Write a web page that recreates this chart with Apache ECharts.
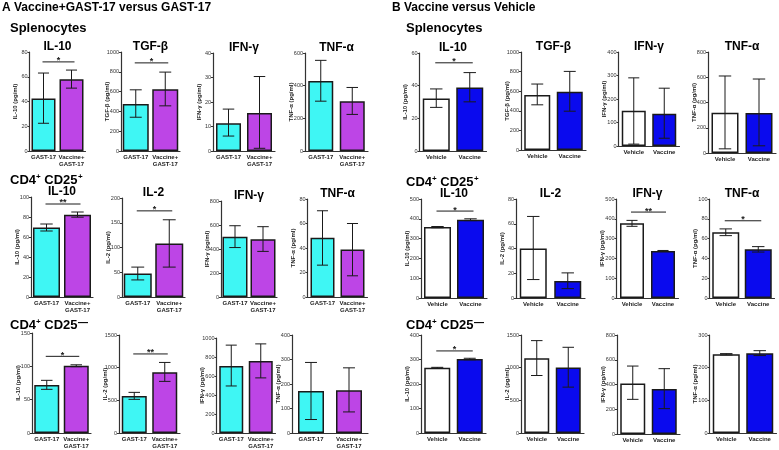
<!DOCTYPE html>
<html>
<head>
<meta charset="utf-8">
<script src="https://cdn.jsdelivr.net/npm/echarts@6/dist/echarts.min.js"></script>
<style>
html, body { margin: 0; padding: 0; background: #fff; }
#chart { width: 779px; height: 450px; }
</style>
</head>
<body>
<div id="chart"></div>
<script>
// ---- data ----
const groupsA = ['GAST-17', 'Vaccine+\nGAST-17'];
const groupsB = ['Vehicle', 'Vaccine'];
const cytoRow1 = ['IL-10', 'TGF-β', 'IFN-γ', 'TNF-α'];
const cytoRow23 = ['IL-10', 'IL-2', 'IFN-γ', 'TNF-α'];

// A: Vaccine+GAST-17 versus GAST-17
const aSplMax = [80, 1000, 40, 600];
const aSplStep = [20, 200, 10, 200];
const aSplMean = [[42.5, 58], [476, 625], [11.3, 15.5], [428, 305]];
const aSplLow = [[22.4, 50.8], [341, 456], [6.1, 1.1], [305, 224]];
const aSplHigh = [[63, 65.4], [618, 797], [17.1, 30.4], [555, 389]];
const aSplSig = [[72, '*'], [890, '*'], null, null];

const aPosMax = [100, 200, 800, 80];
const aPosStep = [20, 50, 200, 20];
const aPosMean = [[69.5, 82.3], [47.5, 108], [502, 482], [48.3, 38.8]];
const aPosLow = [[66, 79.8], [34.5, 60.4], [412, 380], [26, 17.3]];
const aPosHigh = [[73, 85], [60.4, 156], [594, 586], [70.4, 60]];
const aPosSig = [[93, '**'], [174, '*'], null, null];

const aNegMax = [150, 1500, 1000, 400];
const aNegStep = [50, 500, 200, 100];
const aNegMean = [[72, 100.8], [565, 930], [705, 757], [171, 175]];
const aNegLow = [[65.5, 99.5], [515, 790], [495, 580], [55, 86]];
const aNegHigh = [[79, 102.3], [622, 1080], [925, 938], [288, 266]];
const aNegSig = [[115, '*'], [1210, '**'], null, null];

// B: Vaccine versus Vehicle
const bSplMax = [60, 1000, 400, 800];
const bSplStep = [20, 200, 100, 200];
const bSplMean = [[32.2, 38.9], [560, 595], [150, 137], [318, 317]];
const bSplLow = [[26.7, 30.1], [461, 396], [8, 33], [33, 57]];
const bSplHigh = [[38, 48], [673, 802], [290, 246], [610, 586]];
const bSplSig = [[54, '*'], null, null, null];

const bPosMax = [500, 80, 500, 100];
const bPosStep = [100, 20, 100, 20];
const bPosMean = [[358, 395], [40, 13.8], [377, 238], [66.4, 49.2]];
const bPosLow = [[355, 391], [14.9, 7.6], [362, 236], [63, 46.4]];
const bPosHigh = [[361, 400], [65.9, 20.3], [392, 240], [69.8, 51.9]];
const bPosSig = [[439, '*'], null, [434, '**'], [78, '*']];

const bNegMax = [400, 1500, 800, 300];
const bNegStep = [100, 500, 200, 100];
const bNegMean = [[266, 302], [1146, 1004], [409, 364], [241, 244]];
const bNegLow = [[264, 299], [880, 702], [280, 205], [239, 237]];
const bNegHigh = [[268, 305], [1414, 1312], [549, 528], [243, 252]];
const bNegSig = [[335, '*'], null, null, null];

// ---- layout: [left, top, width, height, barWidth] ----
const boxASpl = [[29.5, 52, 56, 99, 24], [121, 52, 59, 99, 26], [213, 53, 62, 98, 25], [305, 53, 63, 98, 25]];
const boxAPos = [[31, 197, 62, 100, 27], [122, 198, 63, 99, 28], [221, 201, 56, 96, 25], [307.5, 199, 60, 98, 24]];
const boxANeg = [[32, 333, 59, 100, 25], [119, 335, 61, 98, 25], [216.5, 338, 59, 95, 24], [292, 335, 76, 98, 26]];
const boxBSpl = [[419.5, 53, 67, 98, 27], [521, 52, 65, 98, 26], [618.5, 52, 61, 94, 24], [708, 52, 68, 101, 27]];
const boxBPos = [[421, 199, 66, 99, 27], [516, 199, 69, 99, 27], [616.5, 199, 62, 99, 24], [709.5, 199, 65, 99, 27]];
const boxBNeg = [[421, 335, 65, 98, 26], [521, 335, 63, 98, 25], [617, 335, 63, 99, 25], [709.5, 335, 67, 98, 27]];

const colorsA = ['#3ff6f4', '#bd45e6'];
const colorsB = ['#ffffff', '#0a0aee'];
const FONT = '"Liberation Sans", Arial, Helvetica, sans-serif';

const rows = [
  { groups: groupsA, cyto: cytoRow1, max: aSplMax, step: aSplStep, mean: aSplMean, low: aSplLow, high: aSplHigh, sig: aSplSig, box: boxASpl, colors: colorsA, titled: true },
  { groups: groupsA, cyto: cytoRow23, max: aPosMax, step: aPosStep, mean: aPosMean, low: aPosLow, high: aPosHigh, sig: aPosSig, box: boxAPos, colors: colorsA, titled: true },
  { groups: groupsA, cyto: cytoRow23, max: aNegMax, step: aNegStep, mean: aNegMean, low: aNegLow, high: aNegHigh, sig: aNegSig, box: boxANeg, colors: colorsA, titled: false },
  { groups: groupsB, cyto: cytoRow1, max: bSplMax, step: bSplStep, mean: bSplMean, low: bSplLow, high: bSplHigh, sig: bSplSig, box: boxBSpl, colors: colorsB, titled: true },
  { groups: groupsB, cyto: cytoRow23, max: bPosMax, step: bPosStep, mean: bPosMean, low: bPosLow, high: bPosHigh, sig: bPosSig, box: boxBPos, colors: colorsB, titled: true },
  { groups: groupsB, cyto: cytoRow23, max: bNegMax, step: bNegStep, mean: bNegMean, low: bNegLow, high: bNegHigh, sig: bNegSig, box: boxBNeg, colors: colorsB, titled: false }
];

const INK = '#1a1a1a';

function errorItem(api, cap) {
  const x = api.value(0);
  const lo = api.coord([x, api.value(1)]);
  const hi = api.coord([x, api.value(2)]);
  const st = { stroke: INK, lineWidth: 1 };
  return {
    type: 'group',
    children: [
      { type: 'line', shape: { x1: lo[0], y1: lo[1], x2: hi[0], y2: hi[1] }, style: st },
      { type: 'line', shape: { x1: hi[0] - cap, y1: hi[1], x2: hi[0] + cap, y2: hi[1] }, style: st },
      { type: 'line', shape: { x1: lo[0] - cap, y1: lo[1], x2: lo[0] + cap, y2: lo[1] }, style: st }
    ]
  };
}

function sigItem(api, label) {
  const y = api.value(2);
  const p1 = api.coord([api.value(0), y]);
  const p2 = api.coord([api.value(1), y]);
  return {
    type: 'group',
    children: [
      { type: 'line', shape: { x1: p1[0] - 1, y1: p1[1], x2: p2[0] + 3, y2: p1[1] }, style: { stroke: INK, lineWidth: 1 } },
      { type: 'text', x: (p1[0] + p2[0]) / 2 + 1, y: p1[1] - 1, style: { text: label, fontSize: 9, fontWeight: 'bold', fontFamily: FONT, fill: INK, align: 'center', verticalAlign: 'middle' } }
    ]
  };
}

const grid = [], xAxis = [], yAxis = [], series = [], graphic = [];

rows.forEach(row => {
  row.box.forEach((b, j) => {
    const k = grid.length;
    const [left, top, width, height, bw] = b;
    grid.push({ left, top, width, height, containLabel: false, outerBoundsMode: 'none' });
    xAxis.push({
      gridIndex: k, type: 'category', data: row.groups,
      axisLine: { lineStyle: { color: '#333', width: 1.2 } },
      axisTick: { alignWithLabel: true, length: 2, lineStyle: { color: '#333' } },
      axisLabel: { interval: 0, fontSize: 6, fontWeight: 'bold', fontFamily: FONT, color: '#222', margin: 3, lineHeight: 7 }
    });
    yAxis.push({
      gridIndex: k, type: 'value', min: 0, max: row.max[j], interval: row.step[j],
      name: row.cyto[j] + ' (pg/ml)', nameLocation: 'middle', nameGap: 11, nameMoveOverlap: false,
      nameTextStyle: { fontSize: 6, fontWeight: 'bold', fontFamily: FONT, color: '#222' },
      axisLine: { show: true, lineStyle: { color: '#333', width: 1.2 } },
      axisTick: { show: true, length: 2, lineStyle: { color: '#333' } },
      axisLabel: { fontSize: 5.5, fontFamily: FONT, color: '#333', margin: 2, formatter: v => String(v) },
      splitLine: { show: false }
    });
    series.push({
      type: 'bar', xAxisIndex: k, yAxisIndex: k, barWidth: bw, silent: true,
      itemStyle: { borderColor: INK, borderWidth: 1.5 },
      data: row.mean[j].map((v, i) => ({ value: v, itemStyle: { color: row.colors[i] } }))
    });
    const cap = bw * 0.23;
    series.push({
      type: 'custom', xAxisIndex: k, yAxisIndex: k, silent: true, z: 5,
      encode: { x: 0, y: [1, 2] },
      data: row.low[j].map((lo, i) => [i, lo, row.high[j][i]]),
      renderItem: (p, api) => errorItem(api, cap)
    });
    const sig = row.sig[j];
    if (sig) {
      series.push({
        type: 'custom', xAxisIndex: k, yAxisIndex: k, silent: true, z: 5,
        encode: { x: [0, 1], y: 2 },
        data: [[0, 1, sig[0]]],
        renderItem: (p, api) => sigItem(api, sig[1])
      });
    }
    if (row.titled) {
      graphic.push({
        type: 'text', x: left + width / 2, y: top - 5,
        style: { text: row.cyto[j], fontSize: 12, fontWeight: 'bold', fontFamily: FONT, fill: '#000', align: 'center', verticalAlign: 'middle' }
      });
    }
  });
});

// headers
const meas = document.createElement('canvas').getContext('2d');
function textW(t, size) {
  meas.font = 'bold ' + size + 'px ' + FONT;
  return meas.measureText(t).width;
}
function label(x, y, text, size) {
  graphic.push({ type: 'text', x, y, style: { text, fontSize: size, fontWeight: 'bold', fontFamily: FONT, fill: '#000', verticalAlign: 'top' } });
}
function cellHeader(x, y, sup, supSize, supDy) {
  let cx = x;
  label(cx, y, 'CD4', 13);
  cx += textW('CD4', 13);
  label(cx, y - 1, '+', 8);
  cx += textW('+', 8);
  label(cx, y, ' CD25', 13);
  cx += textW(' CD25', 13);
  label(cx + 0.5, y + supDy, sup, supSize);
}
label(2, 2, 'A Vaccine+GAST-17 versus GAST-17', 12);
label(392, 2, 'B Vaccine versus Vehicle', 12);
label(10, 22, 'Splenocytes', 13);
label(406, 22, 'Splenocytes', 13);
cellHeader(10, 174, '+', 8, -1);
cellHeader(406, 175.5, '+', 8, -1);
cellHeader(10, 319, '—', 10, -0.5);
cellHeader(406, 319, '—', 10, -0.5);

const chart = echarts.init(document.getElementById('chart'));
chart.setOption({
  backgroundColor: '#fff',
  animation: false,
  grid, xAxis, yAxis, series, graphic
});
</script>
</body>
</html>
